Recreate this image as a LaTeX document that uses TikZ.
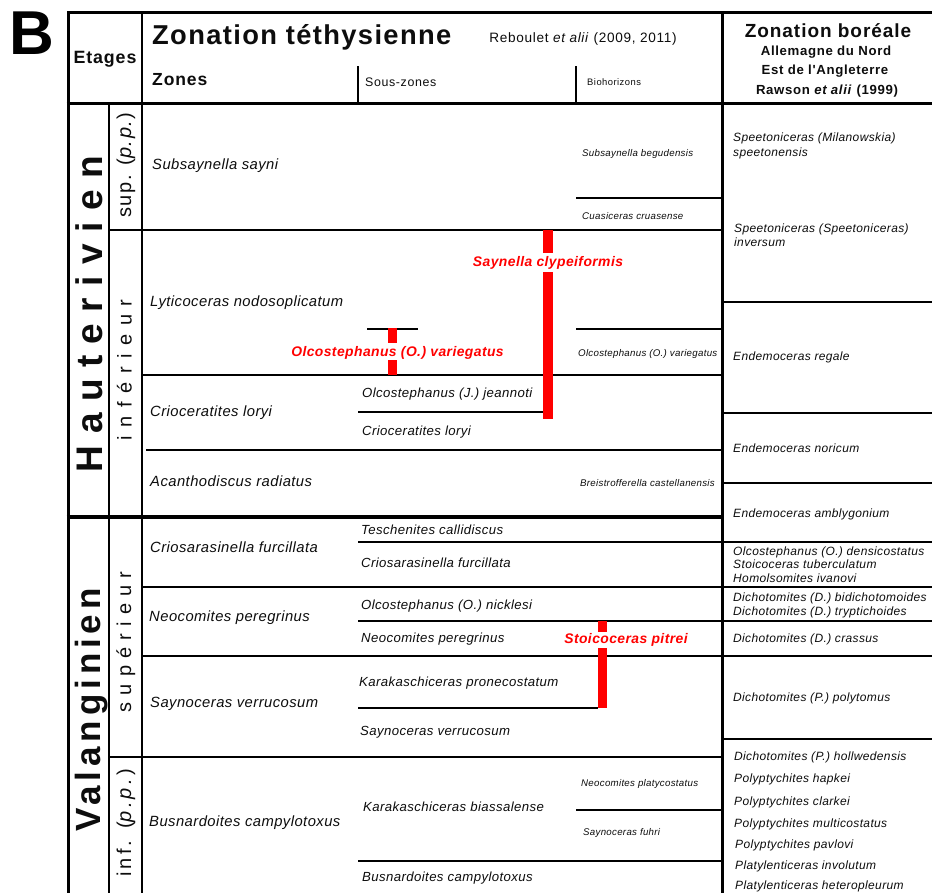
\documentclass[tikz,border=0pt]{standalone}
\usepackage{fontspec}
\setmainfont{Liberation Sans}
\newfontfamily\fsp[LetterSpace=3]{Liberation Sans}
\newfontfamily\fhd[LetterSpace=5]{Liberation Sans}
\newfontfamily\fhaut[LetterSpace=31]{Liberation Sans}
\newfontfamily\fvalan[LetterSpace=14]{Liberation Sans}
\newfontfamily\finf[LetterSpace=43]{Liberation Sans}
\newfontfamily\fsupr[LetterSpace=36]{Liberation Sans}
\newfontfamily\fpp[LetterSpace=8]{Liberation Sans}
\newfontfamily\fpq[LetterSpace=16]{Liberation Sans}
\definecolor{ink}{gray}{0.05}
\definecolor{redbar}{RGB}{255,0,0}
\tikzset{
  thk/.style={line width=3pt,draw=black},
  zl/.style={line width=2.4pt,draw=black},
  sl/.style={line width=1.5pt,draw=black},
  zone/.style={anchor=base west,inner sep=0pt,text=ink,yshift=-4.9pt,font=\fsp\itshape\fontsize{14.8}{17}\selectfont},
  subz/.style={anchor=base west,inner sep=0pt,text=ink,yshift=-4.4pt,font=\fsp\itshape\fontsize{13.2}{15}\selectfont},
  bio/.style={anchor=base west,inner sep=0pt,text=ink,yshift=-3.2pt,font=\fsp\itshape\fontsize{9.7}{11}\selectfont},
  bor/.style={anchor=base west,inner sep=0pt,text=ink,yshift=-4pt,font=\fsp\itshape\fontsize{12}{13}\selectfont},
  redtxt/.style={anchor=base,inner sep=0pt,text=redbar,yshift=-4.6pt,font=\fsp\bfseries\itshape\fontsize{13.9}{16}\selectfont},
  vert/.style={rotate=90,anchor=base,inner sep=0pt,text=ink},
  hdr/.style={anchor=base,inner sep=0pt,text=ink},
  hdrw/.style={anchor=base west,inner sep=0pt,text=ink}
}
\begin{document}
\begin{tikzpicture}[x=1pt,y=-1pt]
\useasboundingbox (0,0) rectangle (932,892);
\clip (0,0) rectangle (932,892);
\fill[white] (0,0) rectangle (932,892);

% label B
\node[inner sep=0pt,font=\bfseries\fontsize{62}{62}\selectfont] (lblB) at (32,33) {B};

% ---------- frame ----------
\draw[thk,line join=miter] (68,895) -- (68,12) -- (935,12);
\draw[thk] (66.5,103) -- (935,103);
\draw[zl] (142,12) -- (142,895);
\draw[zl] (109,103) -- (109,895);
\draw[thk] (722,12) -- (722,895);
\draw[sl] (358,66) -- (358,103);
\draw[sl] (576,66) -- (576,103);

% ---------- header text ----------
\node[hdr,font=\fhd\bfseries\fontsize{17.8}{20}\selectfont] (etages) at (105,63.5) {Etages};
\node[hdrw,font=\fhd\bfseries\fontsize{27.3}{30}\selectfont] (ztet) at (152,44.5) {Zonation téthysienne};
\node[hdr,font=\fhd\fontsize{13.6}{15}\selectfont] (reb) at (583,42) {Reboulet \textit{et alii} (2009, 2011)};
\node[hdrw,font=\fhd\bfseries\fontsize{17.5}{19}\selectfont] (zones) at (152,85.5) {Zones};
\node[hdrw,font=\fhd\fontsize{12.4}{14}\selectfont] (souszones) at (365,86.5) {Sous-zones};
\node[hdrw,font=\fhd\fontsize{9.4}{10}\selectfont] (biohor) at (587,85.5) {Biohorizons};
\node[hdr,font=\fhd\bfseries\fontsize{19}{21}\selectfont] (zbor) at (828,37) {Zonation boréale};
\node[hdr,font=\fhd\bfseries\fontsize{13.2}{15}\selectfont] (allem) at (826,55) {Allemagne du Nord};
\node[hdr,font=\fhd\bfseries\fontsize{13.2}{15}\selectfont] (angl) at (825,74) {Est de l'Angleterre};
\node[hdr,font=\fhd\bfseries\fontsize{13.2}{15}\selectfont] (rawson) at (827,94) {Rawson \textit{et alii} (1999)};

% ---------- stage / substage labels ----------
\node[vert,font=\fhaut\bfseries\fontsize{37}{40}\selectfont] (haut) at (102,314) {Hauterivien};
\node[vert,font=\fvalan\bfseries\fontsize{35}{38}\selectfont] (valang) at (100.5,710) {Valanginien};
\node[vert,font=\fpp\fontsize{20}{22}\selectfont] (hsup) at (131,165) {sup. (\textit{p.p.})};
\node[vert,font=\finf\fontsize{20}{22}\selectfont] (hinf) at (131.5,370) {inférieur};
\node[vert,font=\fsupr\fontsize{20}{22}\selectfont] (vsup) at (131,642) {supérieur};
\node[vert,font=\fpq\fontsize{20}{22}\selectfont] (vinf) at (131,823) {inf. (\textit{p.p.})};

% ---------- Tethyan horizontal lines ----------
\draw[zl] (109,230) -- (722,230);
\draw[sl] (576,198) -- (722,198);
\draw[sl] (576,329) -- (722,329);
\draw[line width=1.2pt] (367,329) -- (418,329);
\draw[zl] (142,375) -- (722,375);
\draw[sl] (358,412) -- (543,412);
\draw[zl] (146,450) -- (722,450);
\draw[line width=4pt] (66.5,516.5) -- (722,516.5);
\draw[sl] (358,542) -- (722,542);
\draw[zl] (142,587) -- (722,587);
\draw[sl] (358,621) -- (722,621);
\draw[zl] (142,656) -- (722,656);
\draw[sl] (358,708) -- (598,708);
\draw[zl] (109,757) -- (722,757);
\draw[sl] (576,810) -- (722,810);
\draw[sl] (358,861) -- (722,861);

% ---------- Boreal horizontal lines ----------
\foreach \yy in {302,413,483,542,587,621,656,739}
  \draw[zl] (722,\yy) -- (935,\yy);

% ---------- zones ----------
\node[zone] (z1) at (152,165) {Subsaynella sayni};
\node[zone] (z2) at (150,302) {Lyticoceras nodosoplicatum};
\node[zone] (z3) at (150,412) {Crioceratites loryi};
\node[zone] (z4) at (150,482) {Acanthodiscus radiatus};
\node[zone] (z5) at (150,548) {Criosarasinella furcillata};
\node[zone] (z6) at (149,617) {Neocomites peregrinus};
\node[zone] (z7) at (150,703) {Saynoceras verrucosum};
\node[zone] (z8) at (149,822) {Busnardoites campylotoxus};

% ---------- sub-zones ----------
\node[subz] (s1) at (362,393) {Olcostephanus (J.) jeannoti};
\node[subz] (s2) at (362,431) {Crioceratites loryi};
\node[subz] (s3) at (361,530) {Teschenites callidiscus};
\node[subz] (s4) at (361,563) {Criosarasinella furcillata};
\node[subz] (s5) at (361,605) {Olcostephanus (O.) nicklesi};
\node[subz] (s6) at (361,638) {Neocomites peregrinus};
\node[subz] (s7) at (359,682) {Karakaschiceras pronecostatum};
\node[subz] (s8) at (360,731) {Saynoceras verrucosum};
\node[subz] (s9) at (363,807) {Karakaschiceras biassalense};
\node[subz] (s10) at (362,877) {Busnardoites campylotoxus};

% ---------- biohorizons ----------
\node[bio] (b1) at (582,153) {Subsaynella begudensis};
\node[bio] (b2) at (582,216) {Cuasiceras cruasense};
\node[bio] (b3) at (578,353) {Olcostephanus (O.) variegatus};
\node[bio] (b4) at (580,483) {Breistrofferella castellanensis};
\node[bio] (b5) at (581,783) {Neocomites platycostatus};
\node[bio] (b6) at (583,832) {Saynoceras fuhri};

% ---------- Boreal zonation ----------
\node[bor] (r1) at (733,137) {Speetoniceras (Milanowskia)};
\node[bor] (r2) at (733,152) {speetonensis};
\node[bor] (r3) at (734,228) {Speetoniceras (Speetoniceras)};
\node[bor] (r4) at (734,242) {inversum};
\node[bor] (r5) at (733,356) {Endemoceras regale};
\node[bor] (r6) at (733,448) {Endemoceras noricum};
\node[bor] (r7) at (733,513) {Endemoceras amblygonium};
\node[bor] (r8) at (733,551) {Olcostephanus (O.) densicostatus};
\node[bor] (r9) at (733,564) {Stoicoceras tuberculatum};
\node[bor] (r10) at (733,578) {Homolsomites ivanovi};
\node[bor] (r11) at (733,597) {Dichotomites (D.) bidichotomoides};
\node[bor] (r12) at (733,611) {Dichotomites (D.) tryptichoides};
\node[bor] (r13) at (733,638) {Dichotomites (D.) crassus};
\node[bor] (r14) at (733,697) {Dichotomites (P.) polytomus};
\node[bor] (r15) at (734,756) {Dichotomites (P.) hollwedensis};
\node[bor] (r16) at (734,778) {Polyptychites hapkei};
\node[bor] (r17) at (734,801) {Polyptychites clarkei};
\node[bor] (r18) at (734,823) {Polyptychites multicostatus};
\node[bor] (r19) at (735,844) {Polyptychites pavlovi};
\node[bor] (r20) at (735,865) {Platylenticeras involutum};
\node[bor] (r21) at (735,885) {Platylenticeras heteropleurum};

% ---------- red ranges ----------
\fill[redbar] (543,230) rectangle (553,253);
\fill[redbar] (543,272) rectangle (553,419);
\node[redtxt] (saynella) at (548,262) {Saynella clypeiformis};

\fill[redbar] (388,328) rectangle (397,343);
\fill[redbar] (388,360) rectangle (397,375);
\node[redtxt] (olco) at (397.5,352) {Olcostephanus (O.) variegatus};

\fill[redbar] (598,621) rectangle (607,632);
\fill[redbar] (598,648) rectangle (607,708);
\node[redtxt] (stoic) at (626,639) {Stoicoceras pitrei};
\end{tikzpicture}
\end{document}
